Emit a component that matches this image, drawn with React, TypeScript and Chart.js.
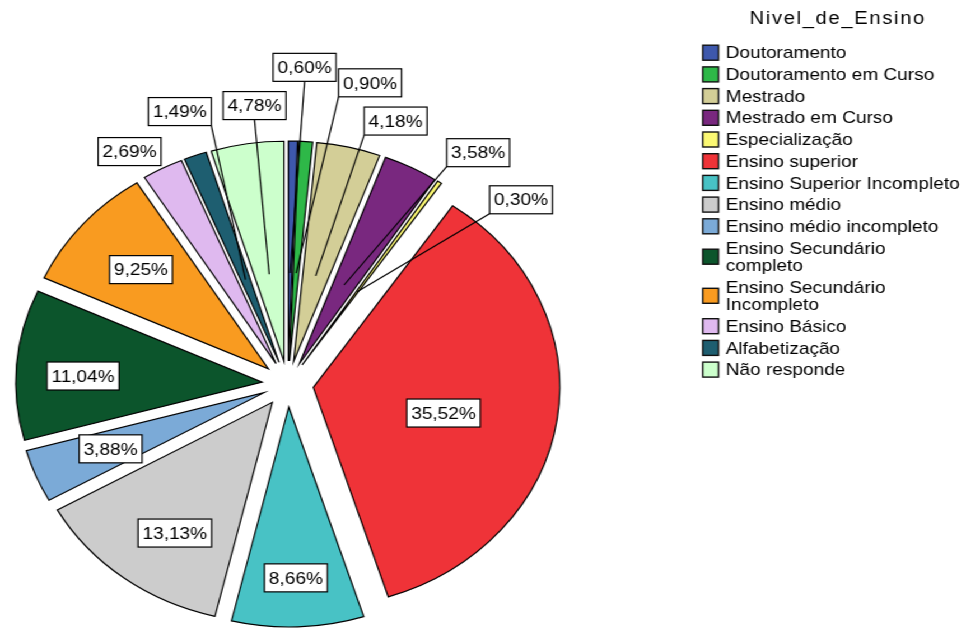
import React, { useEffect, useRef } from "react";
import { Chart, ArcElement, PieController } from "chart.js";

Chart.register(ArcElement, PieController);

// ---------- data ----------
const categories = [
  "Doutoramento",
  "Doutoramento em Curso",
  "Mestrado",
  "Mestrado em Curso",
  "Especialização",
  "Ensino superior",
  "Ensino Superior Incompleto",
  "Ensino médio",
  "Ensino médio incompleto",
  "Ensino Secundário completo",
  "Ensino Secundário Incompleto",
  "Ensino Básico",
  "Alfabetização",
  "Não responde",
];
const percentages = [0.6, 0.9, 4.18, 3.58, 0.3, 35.52, 8.66, 13.13, 3.88, 11.04, 9.25, 2.69, 1.49, 4.78];
const colors = [
  "#3E58AC",
  "#2EB848",
  "#D3CE97",
  "#79287F",
  "#FBF873",
  "#EF3338",
  "#48C2C5",
  "#CCCCCC",
  "#7BAAD7",
  "#0C552C",
  "#F99B20",
  "#DFB9EF",
  "#1E5E70",
  "#CCFFCC",
];
const legendTitle = "Nivel_de_Ensino";

// ---------- label layout (angle clockwise from top in degrees, null = slice middle; distance from centre in px) ----------
const labelAngle: (number | null)[] = [2.7, 13.7, 20.1, 36.3, 48.5, 101.8, null, 214.1, null, 272.5, null, 328.7, 340.5, 353.9];
const labelDistance = [317, 310, 280, 287, 278, 142, 194, 180, 171, 183, 174, 272, 289, 280];
const leaderLine = [true, true, true, true, true, false, false, false, false, false, false, false, true, true];

const STRETCH = 1.12;
const CANVAS_W = 861;
const CANVAS_H = 628;
const EXPLODE = 23;
const RADIUS = 220;
const FONT = '"Liberation Sans", Arial, Helvetica, sans-serif';

const fmt = (v: number) => v.toFixed(2).replace(".", ",") + "%";

const explodePlugin = {
  id: "explode",
  beforeDatasetDraw(chart: any, args: any) {
    const ctx = chart.ctx;
    const meta = args.meta;
    meta.data.forEach((arc: any) => {
      const { startAngle, endAngle } = arc.getProps(["startAngle", "endAngle"], true);
      const mid = (startAngle + endAngle) / 2;
      ctx.save();
      ctx.translate(Math.cos(mid) * EXPLODE, Math.sin(mid) * EXPLODE);
      arc.draw(ctx);
      ctx.restore();
    });
    return false;
  },
};

const labelPlugin = {
  id: "pieLabels",
  afterDatasetsDraw(chart: any) {
    const ctx = chart.ctx;
    const meta = chart.getDatasetMeta(0);
    ctx.save();
    ctx.font = "17px " + FONT;
    const boxes: any[] = [];
    meta.data.forEach((arc: any, i: number) => {
      const { x, y, startAngle, endAngle } = arc.getProps(["x", "y", "startAngle", "endAngle"], true);
      const mid = (startAngle + endAngle) / 2;
      const la = labelAngle[i];
      const a = la === null ? mid : ((la - 90) * Math.PI) / 180;
      const cx = x + labelDistance[i] * Math.cos(a);
      const cy = y + labelDistance[i] * Math.sin(a);
      const text = fmt(percentages[i]);
      const w = ctx.measureText(text).width + 8;
      const h = 28;
      const anchor = leaderLine[i]
        ? { x: x + 111 * Math.cos(mid), y: y + 111 * Math.sin(mid) }
        : null;
      boxes.push({ cx, cy, w, h, text, anchor });
    });
    ctx.strokeStyle = "#000";
    ctx.lineWidth = 1.2;
    boxes.forEach((b) => {
      if (!b.anchor) return;
      const l = b.cx - b.w / 2, r = b.cx + b.w / 2, t = b.cy - b.h / 2, bt = b.cy + b.h / 2;
      const pts = [
        [l, t], [b.cx, t], [r, t],
        [l, b.cy], [r, b.cy],
        [l, bt], [b.cx, bt], [r, bt],
      ];
      let best = pts[0];
      let bd = Infinity;
      pts.forEach((p) => {
        const d = Math.hypot(p[0] - b.anchor.x, p[1] - b.anchor.y);
        if (d < bd) { bd = d; best = p; }
      });
      ctx.beginPath();
      ctx.moveTo(best[0], best[1]);
      ctx.lineTo(b.anchor.x, b.anchor.y);
      ctx.stroke();
    });
    boxes.forEach((b) => {
      const l = b.cx - b.w / 2, t = b.cy - b.h / 2;
      ctx.fillStyle = "#fff";
      ctx.fillRect(l, t, b.w, b.h);
      ctx.strokeStyle = "#000";
      ctx.lineWidth = 1.2;
      ctx.strokeRect(l, t, b.w, b.h);
      ctx.fillStyle = "#000";
      ctx.textAlign = "center";
      ctx.textBaseline = "middle";
      ctx.fillText(b.text, b.cx, b.cy + 1);
    });
    ctx.restore();
  },
};

const legendPlugin = {
  id: "customLegend",
  afterDraw(chart: any) {
    const ctx = chart.ctx;
    ctx.save();
    // title
    ctx.font = "18px " + FONT;
    (ctx as any).letterSpacing = "1.5px";
    ctx.fillStyle = "#000";
    ctx.textAlign = "center";
    ctx.textBaseline = "middle";
    ctx.fillText(legendTitle, 748, 19);
    (ctx as any).letterSpacing = "0px";

    ctx.font = "17px " + FONT;
    ctx.textAlign = "left";
    const maxW = 212;
    const lineStep = 17.4;
    const itemGap = 21.7;
    const swX = 627.5, swW = 14, swH = 15, textX = 648;
    let y = 52.7;
    categories.forEach((name, i) => {
      const words = name.split(" ");
      const lines: string[] = [];
      let cur = "";
      words.forEach((wd) => {
        const test = cur ? cur + " " + wd : wd;
        if (cur && ctx.measureText(test).width > maxW) {
          lines.push(cur);
          cur = wd;
        } else cur = test;
      });
      if (cur) lines.push(cur);
      const swCy = y + ((lines.length - 1) * lineStep) / 2;
      ctx.fillStyle = colors[i];
      ctx.fillRect(swX, swCy - swH / 2, swW, swH);
      ctx.strokeStyle = "#111";
      ctx.lineWidth = 1.4;
      ctx.strokeRect(swX, swCy - swH / 2, swW, swH);
      ctx.fillStyle = "#000";
      lines.forEach((ln, k) => ctx.fillText(ln, textX, y + k * lineStep + 1));
      y += (lines.length - 1) * lineStep + itemGap;
    });
    ctx.restore();
  },
};

export default function App() {
  const ref = useRef<HTMLCanvasElement | null>(null);
  useEffect(() => {
    if (!ref.current) return;
    const chart = new Chart(ref.current, {
      type: "pie",
      data: {
        labels: categories,
        datasets: [
          {
            data: percentages,
            backgroundColor: colors,
            borderColor: "#000",
            borderWidth: 1.2,
            borderJoinStyle: "miter",
            offset: 0,
            hoverOffset: 0,
            radius: RADIUS,
          } as any,
        ],
      },
      options: {
        responsive: false,
        maintainAspectRatio: false,
        animation: false,
        events: [],
        radius: RADIUS,
        layout: { padding: { left: 25, right: CANVAS_W - 25 - 464, top: 152, bottom: 12 } },
        plugins: { legend: { display: false }, tooltip: { enabled: false } },
      } as any,
      plugins: [explodePlugin, labelPlugin, legendPlugin],
    });
    return () => chart.destroy();
  }, []);
  return (
    <div
      style={{
        position: "absolute",
        left: 0,
        top: 0,
        width: CANVAS_W,
        height: CANVAS_H,
        transform: `scaleX(${STRETCH})`,
        transformOrigin: "0 0",
        background: "#fff",
      }}
    >
      <canvas ref={ref} width={CANVAS_W} height={CANVAS_H} style={{ width: CANVAS_W, height: CANVAS_H, display: "block" }} />
    </div>
  );
}
